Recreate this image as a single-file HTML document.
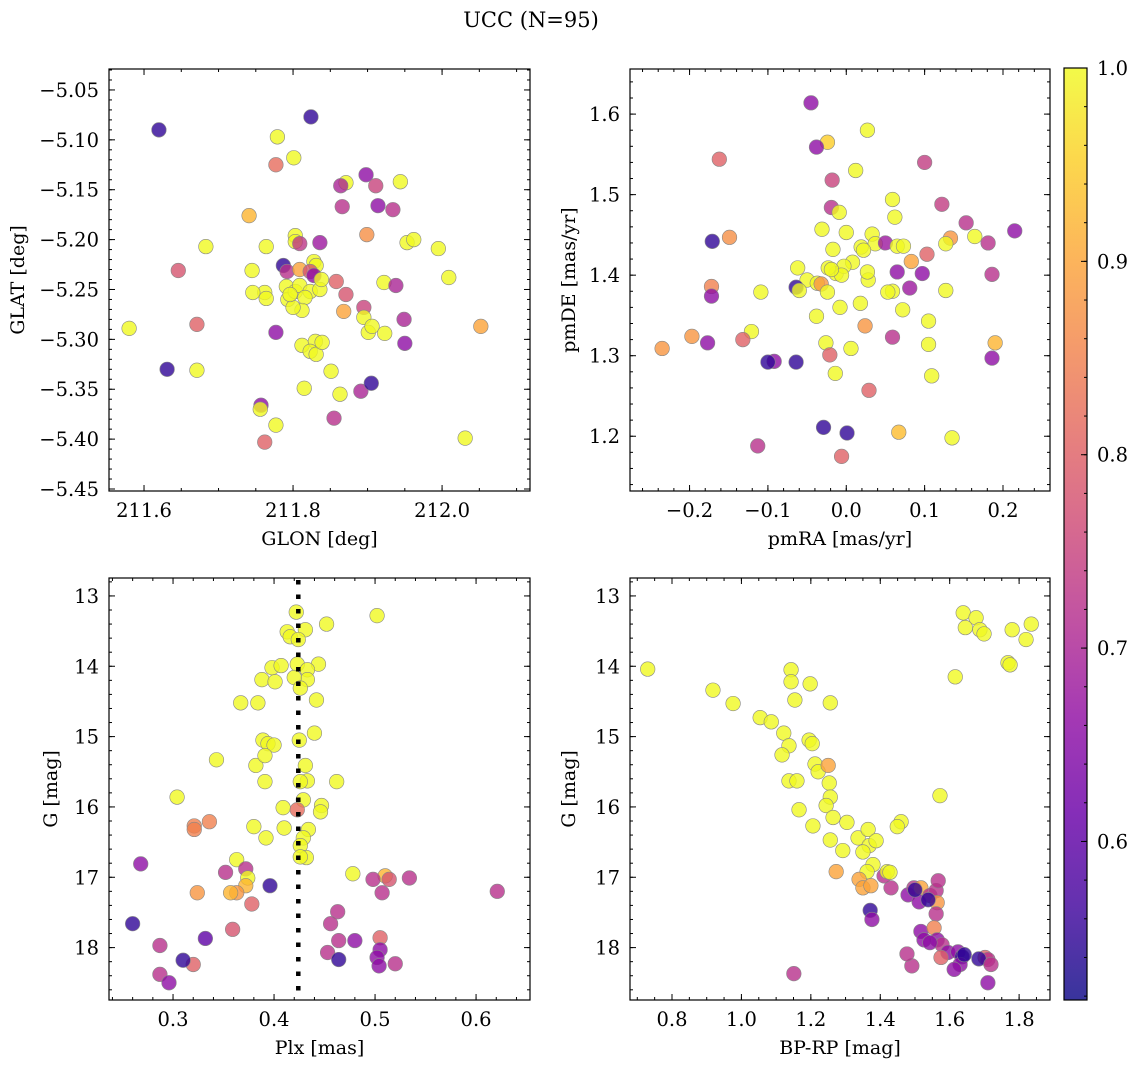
<!DOCTYPE html>
<html><head><meta charset="utf-8">
<style>
body{margin:0;background:#fff;}
svg{display:block;font-family:"DejaVu Serif","Liberation Serif",serif;}
</style></head>
<body>
<svg id="fig" width="1136" height="1068" viewBox="0 0 1136 1068" xmlns="http://www.w3.org/2000/svg">
<defs>
<linearGradient id="plasma" x1="0" y1="1" x2="0" y2="0">
<stop offset="0" stop-color="#0d0887"/><stop offset="0.1" stop-color="#41049d"/><stop offset="0.2" stop-color="#6a00a8"/><stop offset="0.3" stop-color="#8f0da4"/><stop offset="0.4" stop-color="#b12a90"/><stop offset="0.5" stop-color="#cc4778"/><stop offset="0.6" stop-color="#e16462"/><stop offset="0.7" stop-color="#f2844b"/><stop offset="0.8" stop-color="#fca636"/><stop offset="0.9" stop-color="#fcce25"/><stop offset="1" stop-color="#f0f921"/>
</linearGradient>
</defs>
<text x="531" y="27" font-size="21" text-anchor="middle">UCC (N=95)</text>
</svg>
<script>
// ---- data ----
const p1Points = [[211.620,-5.090,.55],[211.824,-5.077,.55],[211.779,-5.097,1],[211.777,-5.125,.82],[211.801,-5.118,1],[211.871,-5.143,1],[211.864,-5.146,.70],[211.898,-5.135,.66],[211.911,-5.146,.75],[211.944,-5.142,1],[211.866,-5.167,.72],[211.914,-5.166,.66],[211.934,-5.170,.72],[211.741,-5.176,.92],[211.683,-5.207,1],[211.764,-5.207,1],[211.803,-5.196,1],[211.803,-5.202,1],[211.809,-5.204,.73],[211.836,-5.203,.68],[211.899,-5.195,.87],[211.953,-5.203,1],[211.962,-5.200,1],[211.995,-5.209,1],[211.646,-5.231,.78],[211.745,-5.231,1],[211.787,-5.226,.55],[211.792,-5.232,.72],[211.809,-5.230,.9],[211.828,-5.222,1],[211.831,-5.226,1],[211.823,-5.232,.78],[211.828,-5.236,.66],[211.922,-5.243,1],[212.009,-5.238,1],[211.762,-5.253,1],[211.746,-5.253,1],[211.791,-5.247,1],[211.793,-5.260,1],[211.803,-5.252,1],[211.809,-5.246,1],[211.823,-5.252,1],[211.836,-5.250,1],[211.838,-5.240,1],[211.816,-5.258,1],[211.858,-5.242,.80],[211.871,-5.255,.78],[211.938,-5.246,.70],[211.764,-5.259,1],[211.812,-5.271,1],[211.800,-5.268,1],[211.868,-5.272,.9],[211.895,-5.268,.75],[211.895,-5.278,1],[211.671,-5.285,.80],[211.580,-5.289,1],[211.777,-5.293,.66],[211.631,-5.330,.55],[211.671,-5.331,1],[211.812,-5.306,1],[211.830,-5.302,1],[211.823,-5.312,1],[211.831,-5.315,1],[211.839,-5.303,1],[211.851,-5.332,1],[211.863,-5.355,1],[211.855,-5.379,.72],[211.891,-5.352,.70],[211.905,-5.344,.55],[211.901,-5.293,1],[211.906,-5.287,1],[211.923,-5.294,1],[211.949,-5.280,.70],[211.950,-5.304,.66],[212.052,-5.287,.9],[212.031,-5.399,1],[211.757,-5.366,.66],[211.756,-5.370,1],[211.777,-5.386,1],[211.762,-5.403,.8],[211.815,-5.349,1],[211.796,-5.255,1]];
const p2Points = [[-0.045,1.614,.66],[-0.162,1.544,.8],[-0.024,1.565,.95],[0.027,1.580,1],[-0.038,1.559,.66],[-0.018,1.518,.75],[0.012,1.530,1],[0.100,1.540,.74],[0.122,1.488,.74],[0.059,1.494,1],[0.062,1.472,1],[-0.019,1.484,.72],[-0.009,1.478,1],[-0.031,1.457,1],[0,1.453,1],[0.033,1.451,1],[0.037,1.439,1],[-0.171,1.442,.55],[-0.149,1.447,.87],[0.050,1.440,.68],[0.065,1.436,1],[0.073,1.436,1],[0.133,1.446,.88],[0.153,1.465,.72],[0.164,1.448,1],[0.181,1.440,.72],[0.215,1.455,.66],[0.103,1.426,.8],[0.127,1.439,1],[-0.017,1.432,1],[0.019,1.435,1],[0.022,1.431,1],[0.008,1.416,1],[-0.013,1.402,1],[-0.023,1.409,1],[-0.003,1.411,1],[-0.006,1.400,1],[-0.019,1.407,1],[-0.062,1.409,1],[0.065,1.404,.66],[0.097,1.402,.66],[-0.050,1.394,1],[0.028,1.394,1],[0.027,1.404,1],[0.083,1.417,.9],[0.059,1.380,1],[0.053,1.379,1],[0.081,1.384,.68],[0.127,1.381,1],[0.186,1.401,.72],[-0.172,1.386,.85],[-0.172,1.374,.66],[-0.109,1.379,1],[-0.064,1.385,.55],[-0.060,1.381,1],[-0.037,1.390,1],[-0.032,1.389,.88],[-0.024,1.379,1],[0.018,1.365,1],[-0.008,1.360,1],[-0.038,1.349,1],[0.072,1.357,1],[0.024,1.337,.88],[0.105,1.343,1],[-0.121,1.330,1],[-0.026,1.316,1],[0.006,1.309,1],[-0.021,1.301,.8],[0.105,1.314,1],[0.059,1.323,.72],[0.190,1.316,.92],[-0.235,1.309,.88],[-0.197,1.324,.88],[-0.132,1.320,.8],[-0.177,1.316,.66],[-0.092,1.293,.66],[-0.100,1.292,.55],[-0.064,1.292,.55],[-0.014,1.278,1],[0.109,1.275,1],[0.186,1.297,.66],[0.029,1.257,.8],[0.067,1.205,.93],[0.135,1.198,1],[-0.029,1.211,.55],[0.001,1.204,.55],[-0.113,1.188,.72],[-0.006,1.175,.8]];
const p3Points = [[0.502,13.28,1],[0.452,13.40,1],[0.422,13.23,1],[0.413,13.51,1],[0.416,13.58,1],[0.431,13.48,1],[0.424,13.62,1],[0.398,14.02,1],[0.407,13.99,1],[0.423,13.97,1],[0.444,13.97,1],[0.433,14.05,1],[0.433,14.19,1],[0.388,14.19,1],[0.401,14.22,1],[0.420,14.16,1],[0.426,14.31,1],[0.442,14.48,1],[0.367,14.52,1],[0.384,14.52,1],[0.440,14.95,1],[0.389,15.05,1],[0.394,15.10,1],[0.400,15.12,1],[0.425,15.05,1],[0.343,15.33,1],[0.382,15.41,1],[0.431,15.41,1],[0.391,15.27,1],[0.433,15.63,1],[0.391,15.64,1],[0.426,15.64,1],[0.462,15.64,1],[0.304,15.86,1],[0.429,15.90,1],[0.409,16.01,1],[0.423,16.04,.82],[0.447,15.98,1],[0.446,16.07,1],[0.380,16.28,1],[0.434,16.32,1],[0.321,16.27,.85],[0.321,16.32,.85],[0.336,16.21,.85],[0.410,16.30,1],[0.392,16.44,1],[0.429,16.44,1],[0.426,16.55,1],[0.432,16.72,1],[0.426,16.71,1],[0.363,16.75,1],[0.352,16.93,.72],[0.478,16.95,1],[0.372,16.88,.72],[0.374,17.01,1],[0.510,16.98,.92],[0.372,17.12,.92],[0.363,17.22,.88],[0.357,17.22,.92],[0.396,17.12,.55],[0.324,17.22,.88],[0.378,17.38,.8],[0.514,17.03,.78],[0.498,17.03,.72],[0.534,17.01,.72],[0.621,17.20,.72],[0.268,16.81,.66],[0.507,17.22,.72],[0.359,17.74,.78],[0.260,17.66,.55],[0.332,17.87,.6],[0.287,17.97,.72],[0.463,17.49,.72],[0.456,17.66,.72],[0.464,17.90,.72],[0.480,17.90,.66],[0.453,18.07,.72],[0.464,18.17,.55],[0.505,17.86,.8],[0.505,18.03,.66],[0.502,18.14,.66],[0.504,18.26,.66],[0.520,18.23,.72],[0.287,18.38,.72],[0.320,18.24,.8],[0.310,18.18,.55],[0.296,18.50,.66]];
const p4Points = [[1.639,13.24,1],[1.676,13.31,1],[1.645,13.45,1],[1.687,13.48,1],[1.699,13.54,1],[1.835,13.40,1],[1.780,13.48,1],[1.820,13.62,1],[1.768,13.95,1],[1.774,13.98,1],[1.616,14.15,1],[0.730,14.04,1],[1.143,14.05,1],[1.143,14.22,1],[1.198,14.25,1],[0.918,14.34,1],[1.256,14.52,1],[0.976,14.53,1],[1.154,14.48,1],[1.054,14.73,1],[1.086,14.79,1],[1.122,14.95,1],[1.195,15.05,1],[1.204,15.10,1],[1.137,15.13,1],[1.117,15.26,1],[1.212,15.39,1],[1.221,15.50,1],[1.250,15.41,.9],[1.137,15.63,1],[1.160,15.63,1],[1.253,15.66,1],[1.166,16.04,1],[1.572,15.84,1],[1.256,15.86,1],[1.244,15.98,1],[1.264,16.15,1],[1.304,16.22,1],[1.256,16.47,1],[1.336,16.44,1],[1.365,16.32,1],[1.206,16.27,1],[1.292,16.62,1],[1.368,16.55,1],[1.350,16.64,1],[1.388,16.48,1],[1.460,16.21,1],[1.449,16.28,1],[1.379,16.82,1],[1.362,16.92,1],[1.339,17.03,.9],[1.350,17.15,.9],[1.373,17.12,.9],[1.431,17.15,.72],[1.480,17.25,.66],[1.497,17.15,.72],[1.517,17.15,.9],[1.543,17.26,.72],[1.561,17.19,.72],[1.567,17.05,.72],[1.564,17.36,.88],[1.512,17.35,.66],[1.538,17.32,.55],[1.500,17.18,.55],[1.411,16.98,.72],[1.420,16.92,1],[1.428,16.93,1],[1.273,16.92,.9],[1.561,17.52,.72],[1.371,17.47,.55],[1.376,17.60,.66],[1.517,17.77,.66],[1.555,17.72,.85],[1.564,17.89,.66],[1.578,17.96,.72],[1.526,17.89,.66],[1.543,17.93,.66],[1.595,18.07,.66],[1.624,18.06,.66],[1.636,18.13,.55],[1.630,18.24,.66],[1.642,18.10,.55],[1.702,18.14,.8],[1.710,18.17,.72],[1.684,18.16,.55],[1.719,18.24,.72],[1.710,18.50,.66],[1.491,18.26,.72],[1.477,18.09,.72],[1.575,18.14,.8],[1.613,18.31,.66],[1.151,18.37,.72]];
const p1XTicks = [211.6, 211.8, 212.0];
const p1YTicks = [-5.05,-5.10,-5.15,-5.20,-5.25,-5.30,-5.35,-5.40,-5.45];
const p2XTicks = [-0.2,-0.1,0.0,0.1,0.2];
const p2YTicks = [1.2,1.3,1.4,1.5,1.6];
const p3XTicks = [0.3,0.4,0.5,0.6];
const gTicks = [13,14,15,16,17,18];
const p4XTicks = [0.8,1.0,1.2,1.4,1.6,1.8];
const cbarTicks = [0.6,0.7,0.8,0.9,1.0];
const plxLine = [0.424];
const cmin = 0.518, cmax = 1.0;

const NS = "http://www.w3.org/2000/svg";
const svg = document.getElementById('fig');
const stops = [[0,13,8,135],[0.1,65,4,157],[0.2,106,0,168],[0.3,143,13,164],[0.4,177,42,144],[0.5,204,71,120],[0.6,225,100,98],[0.7,242,132,75],[0.8,252,166,54],[0.9,252,206,37],[1,240,249,33]];
function plasma(v){
  let t = Math.max(0, Math.min(1, (v - cmin) / (cmax - cmin)));
  for (let i = 1; i < stops.length; i++) {
    if (t <= stops[i][0]) {
      const a = stops[i-1], b = stops[i], f = (t - a[0]) / (b[0] - a[0]);
      return 'rgb(' + [1,2,3].map(k => Math.round(a[k] + (b[k]-a[k])*f)).join(',') + ')';
    }
  }
  return 'rgb(240,249,33)';
}
function mk(tag, attrs, parent){
  const e = document.createElementNS(NS, tag);
  for (const k in attrs) e.setAttribute(k, attrs[k]);
  (parent || svg).appendChild(e);
  return e;
}
function fmt(v, d){ return (v < 0 ? '\u2212' : '') + Math.abs(v).toFixed(d); }
const TF = 19.5, LF = 19;

function panel(name, box, xd, yd, pts, xt, yt, xminor, yminor, xdec, ydec, xlabel, ylabel, ylabX){
  const g = mk('g', {});
  
  
  const sx = v => box.x0 + (v - xd[0]) / (xd[1] - xd[0]) * (box.x1 - box.x0);
  const sy = v => box.y1 - (v - yd[0]) / (yd[1] - yd[0]) * (box.y1 - box.y0);
  const pg = mk('g', {}, g);
  
  
  pts.forEach(p => {
    const c = mk('circle', {cx: sx(p[0]), cy: sy(p[1]), r: 7.3, fill: plasma(p[2]), 'fill-opacity': 0.8, stroke: '#888', 'stroke-width': 0.6}, pg);
    
    
  });
  const fr = mk('rect', {x: box.x0, y: box.y0, width: box.x1 - box.x0, height: box.y1 - box.y0, fill: 'none', stroke: '#000', 'stroke-width': 1.2}, g);
  
  
  const tk = mk('g', {stroke: '#000', 'stroke-width': 1}, g);
  
  
  const lo = Math.min(xd[0], xd[1]), hi = Math.max(xd[0], xd[1]);
  for (let v = Math.ceil(lo / xminor - 1e-6) * xminor; v <= hi + 1e-9; v += xminor) {
    const x = sx(v);
    mk('line', {x1: x, x2: x, y1: box.y1, y2: box.y1 - 3}, tk);
    mk('line', {x1: x, x2: x, y1: box.y0, y2: box.y0 + 3}, tk);
  }
  const ylo = Math.min(yd[0], yd[1]), yhi = Math.max(yd[0], yd[1]);
  for (let v = Math.ceil(ylo / yminor - 1e-6) * yminor; v <= yhi + 1e-9; v += yminor) {
    const y = sy(v);
    mk('line', {x1: box.x0, x2: box.x0 + 3, y1: y, y2: y}, tk);
    mk('line', {x1: box.x1, x2: box.x1 - 3, y1: y, y2: y}, tk);
  }
  xt.forEach(v => {
    const x = sx(v);
    mk('line', {x1: x, x2: x, y1: box.y1, y2: box.y1 - 6}, tk);
    mk('line', {x1: x, x2: x, y1: box.y0, y2: box.y0 + 6}, tk);
    const t = mk('text', {x: x, y: box.y1 + 26, 'font-size': TF, 'text-anchor': 'middle'}, g);
    t.textContent = fmt(v, xdec);
    
    
  });
  yt.forEach(v => {
    const y = sy(v);
    mk('line', {x1: box.x0, x2: box.x0 + 6, y1: y, y2: y}, tk);
    mk('line', {x1: box.x1, x2: box.x1 - 6, y1: y, y2: y}, tk);
    const t = mk('text', {x: box.x0 - 10, y: y + 7, 'font-size': TF, 'text-anchor': 'end'}, g);
    t.textContent = fmt(v, ydec);
    
    
  });
  const xl = mk('text', {x: (box.x0 + box.x1) / 2, y: box.y1 + 54, 'font-size': LF, 'text-anchor': 'middle'}, g);
  xl.textContent = xlabel;
  
  
  const yc = (box.y0 + box.y1) / 2;
  const yl = mk('text', {x: ylabX, y: yc, 'font-size': LF, 'text-anchor': 'middle', transform: 'rotate(-90 ' + ylabX + ' ' + yc + ')'}, g);
  yl.textContent = ylabel;
  
  
  return {sx, sy, g};
}

panel('glon-glat-panel', {x0:109, x1:530, y0:69, y1:491}, [211.553, 212.118], [-5.452, -5.029], p1Points, p1XTicks, p1YTicks, 0.05, 0.01, 1, 2, 'GLON [deg]', 'GLAT [deg]', 24);
panel('pm-panel', {x0:630, x1:1050, y0:69, y1:491}, [-0.276, 0.260], [1.132, 1.656], p2Points, p2XTicks, p2YTicks, 0.02, 0.02, 1, 1, 'pmRA [mas/yr]', 'pmDE [mas/yr]', 575);
const P3 = panel('plx-g-panel', {x0:109, x1:530, y0:578, y1:1000}, [0.2366, 0.6534], [18.745, 12.745], p3Points, p3XTicks, gTicks, 0.02, 0.2, 1, 0, 'Plx [mas]', 'G [mag]', 57);
panel('cmd-panel', {x0:630, x1:1050, y0:578, y1:1000}, [0.679, 1.889], [18.745, 12.745], p4Points, p4XTicks, gTicks, 0.05, 0.2, 1, 0, 'BP-RP [mag]', 'G [mag]', 575);

plxLine.forEach(v => {
  const l = mk('line', {x1: P3.sx(v), x2: P3.sx(v), y1: 580, y2: 1000, stroke: '#000', 'stroke-width': 4.5, 'stroke-dasharray': '4.5 10'}, P3.g);
  
  
});

const cb = mk('g', {});


const cy0 = 68, cy1 = 1000, cx0 = 1064, cx1 = 1087;
const cby = v => cy1 - (v - cmin) / (cmax - cmin) * (cy1 - cy0);
mk('rect', {x: cx0, y: cy0, width: cx1 - cx0, height: cy1 - cy0, fill: 'url(#plasma)', 'fill-opacity': 0.82}, cb);
mk('rect', {x: cx0, y: cy0, width: cx1 - cx0, height: cy1 - cy0, fill: 'none', stroke: '#000', 'stroke-width': 1.2}, cb);
for (let v = 0.52; v <= 1.0001; v += 0.02) {
  mk('line', {x1: cx1, x2: cx1 - 3, y1: cby(v), y2: cby(v), stroke: '#000'}, cb);
}
cbarTicks.forEach(v => {
  mk('line', {x1: cx1, x2: cx1 - 6, y1: cby(v), y2: cby(v), stroke: '#000'}, cb);
  const t = mk('text', {x: cx1 + 10, y: cby(v) + 7, 'font-size': TF}, cb);
  t.textContent = v.toFixed(1);
  
  
});
</script>
</body></html>
